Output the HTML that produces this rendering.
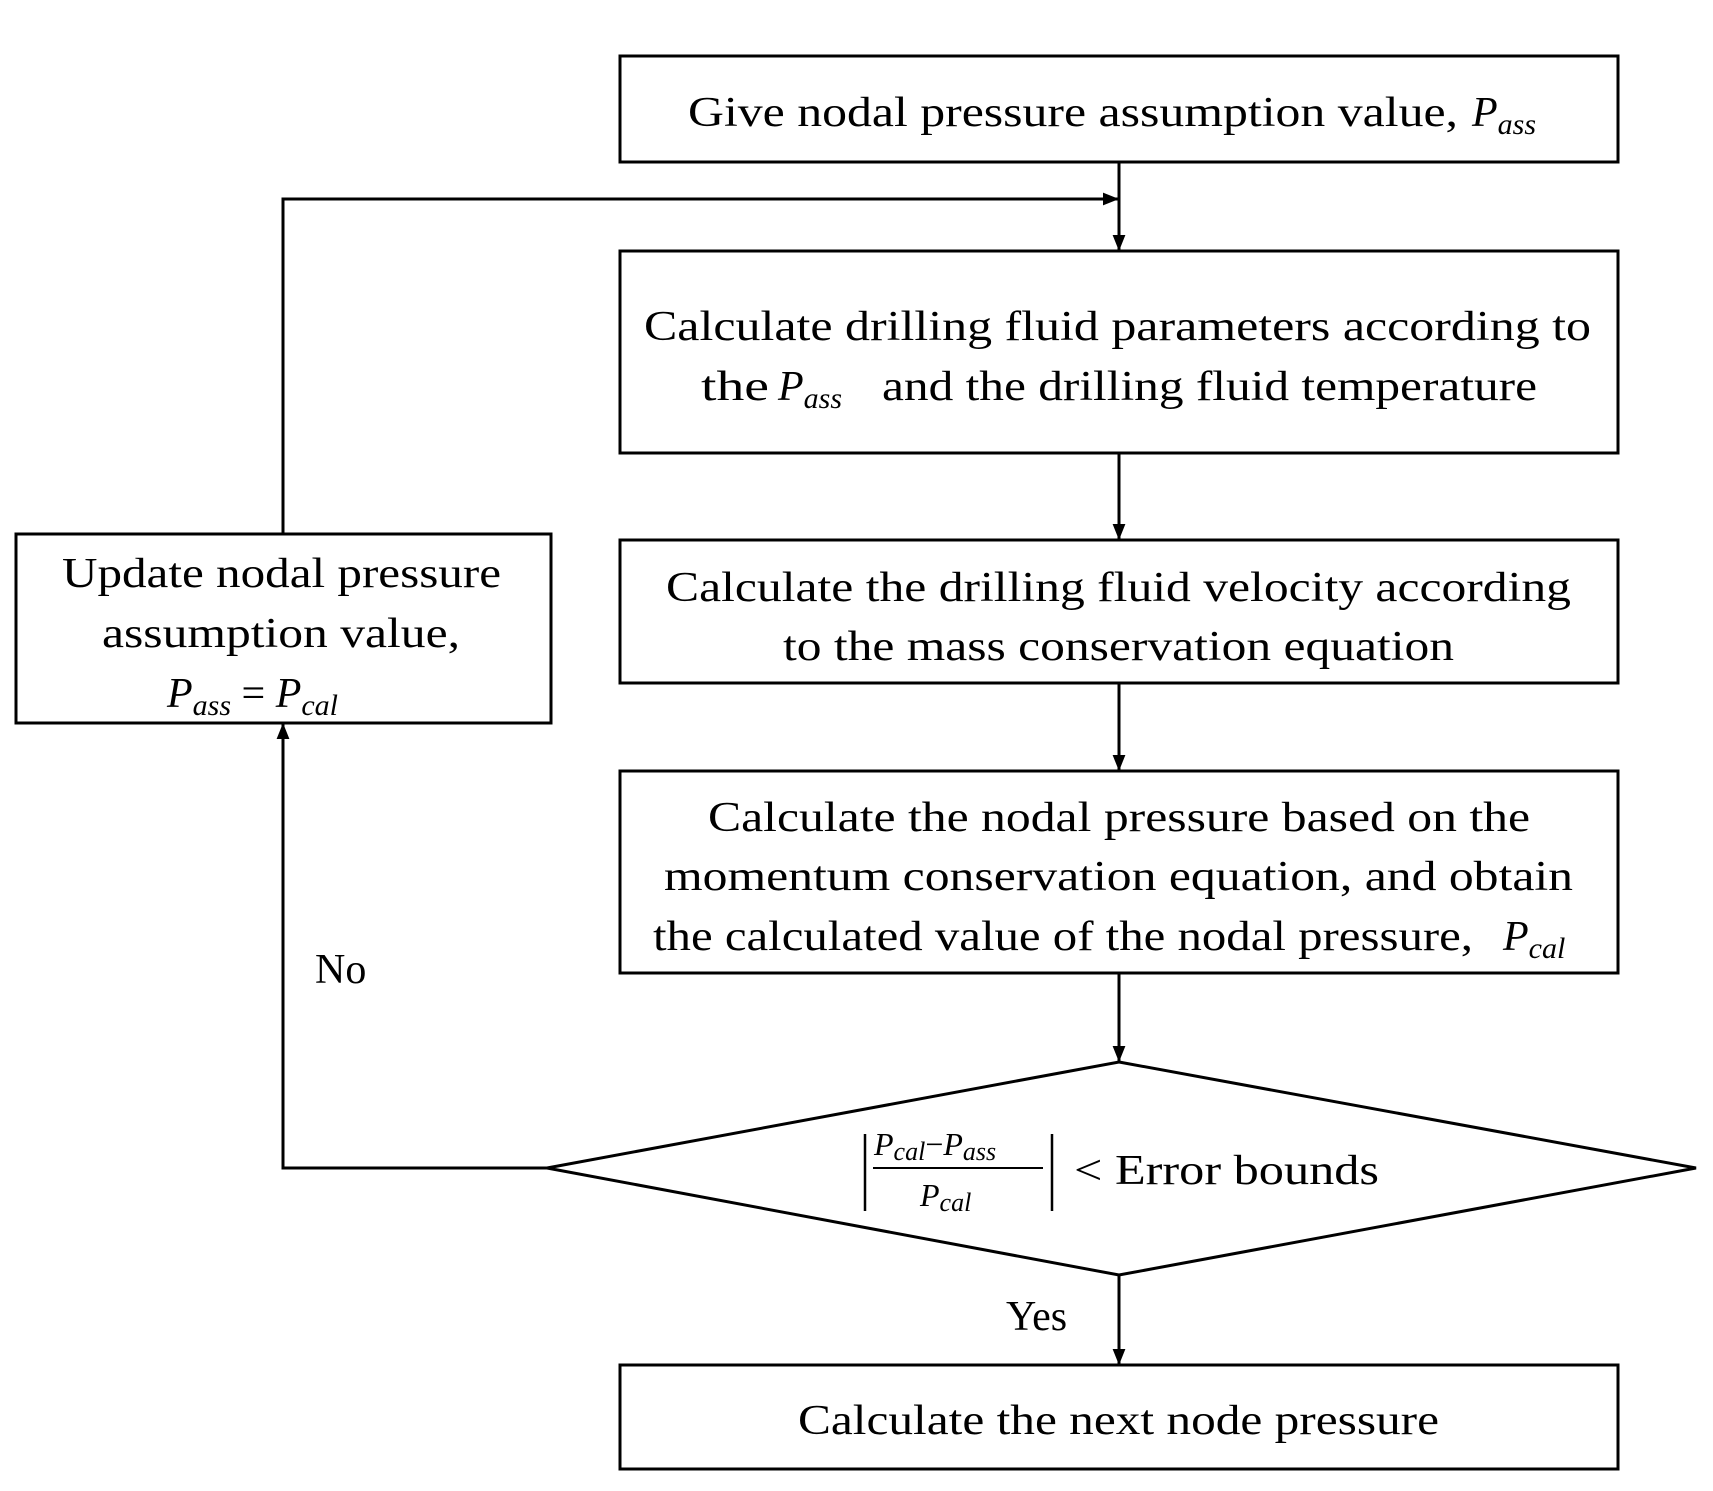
<!DOCTYPE html>
<html><head><meta charset="utf-8"><style>html,body{margin:0;padding:0;background:#fff}svg{display:block}</style></head><body>
<svg width="1713" height="1491" viewBox="0 0 1713 1491" xmlns="http://www.w3.org/2000/svg" font-family="'Liberation Serif', serif" font-size="42" fill="#000">
<defs>
<marker id="b" viewBox="0 0 10 10" markerWidth="16" markerHeight="16" refX="10" refY="5" orient="auto" markerUnits="userSpaceOnUse"><path d="M0,1 L10,5 L0,9 z" fill="#000"/></marker></defs>
<g fill="none" stroke="#000" stroke-width="3">
<rect x="620" y="56" width="998" height="106"/>
<rect x="620" y="251" width="998" height="202"/>
<rect x="620" y="540" width="998" height="143"/>
<rect x="620" y="771" width="998" height="202"/>
<rect x="620" y="1365" width="998" height="104"/>
<rect x="16" y="534" width="535" height="189"/>
<polygon points="1119,1062 1696,1168 1119,1275 547,1168"/>
<line x1="1119" y1="162" x2="1119" y2="251" marker-end="url(#b)"/>
<line x1="1119" y1="453" x2="1119" y2="540" marker-end="url(#b)"/>
<line x1="1119" y1="683" x2="1119" y2="771" marker-end="url(#b)"/>
<line x1="1119" y1="973" x2="1119" y2="1062" marker-end="url(#b)"/>
<line x1="1119" y1="1275" x2="1119" y2="1365" marker-end="url(#b)"/>
<polyline points="547,1168 283,1168 283,723" marker-end="url(#b)"/>
<polyline points="283,534 283,199 1119,199" marker-end="url(#b)"/>
<line x1="865" y1="1134" x2="865" y2="1211" stroke-width="2.5"/>
<line x1="1052" y1="1134" x2="1052" y2="1211" stroke-width="2.5"/>
<line x1="873" y1="1168" x2="1043" y2="1168" stroke-width="2"/>
</g>
<text x="688" y="126" textLength="770" lengthAdjust="spacingAndGlyphs">Give nodal pressure assumption value,</text>
<text x="1472" y="126" font-style="italic">P<tspan font-size="30" dy="8">ass</tspan></text>
<text x="644" y="340" textLength="947" lengthAdjust="spacingAndGlyphs">Calculate drilling fluid parameters according to</text>
<text x="701" y="400" textLength="68" lengthAdjust="spacingAndGlyphs">the</text>
<text x="778" y="400" font-style="italic">P<tspan font-size="30" dy="8">ass</tspan></text>
<text x="882" y="400" textLength="655" lengthAdjust="spacingAndGlyphs">and the drilling fluid temperature</text>
<text x="666" y="601" textLength="905" lengthAdjust="spacingAndGlyphs">Calculate the drilling fluid velocity according</text>
<text x="783" y="660" textLength="671" lengthAdjust="spacingAndGlyphs">to the mass conservation equation</text>
<text x="708" y="831" textLength="822" lengthAdjust="spacingAndGlyphs">Calculate the nodal pressure based on the</text>
<text x="664" y="890" textLength="909" lengthAdjust="spacingAndGlyphs">momentum conservation equation, and obtain</text>
<text x="653" y="950" textLength="820" lengthAdjust="spacingAndGlyphs">the calculated value of the nodal pressure,</text>
<text x="1503" y="950" font-style="italic">P<tspan font-size="30" dy="8">cal</tspan></text>
<text x="62" y="587" textLength="439" lengthAdjust="spacingAndGlyphs">Update nodal pressure</text>
<text x="102" y="647" textLength="358" lengthAdjust="spacingAndGlyphs">assumption value,</text>
<text x="167" y="707" font-style="italic">P<tspan font-size="30" dy="8">ass</tspan><tspan dy="-8" font-style="normal"> = </tspan>P<tspan font-size="30" dy="8">cal</tspan></text>
<text x="874" y="1155" font-size="32" font-style="italic">P<tspan font-size="26" dy="5">cal</tspan><tspan dy="-5" font-style="normal">−</tspan>P<tspan font-size="26" dy="5">ass</tspan></text>
<text x="920" y="1206" font-size="32" font-style="italic">P<tspan font-size="26" dy="5">cal</tspan></text>
<text x="1074" y="1184" textLength="305" lengthAdjust="spacingAndGlyphs">&lt; Error bounds</text>
<text x="798" y="1434" textLength="641" lengthAdjust="spacingAndGlyphs">Calculate the next node pressure</text>
<text x="315" y="983">No</text>
<text x="1006" y="1330">Yes</text>
</svg>
</body></html>
